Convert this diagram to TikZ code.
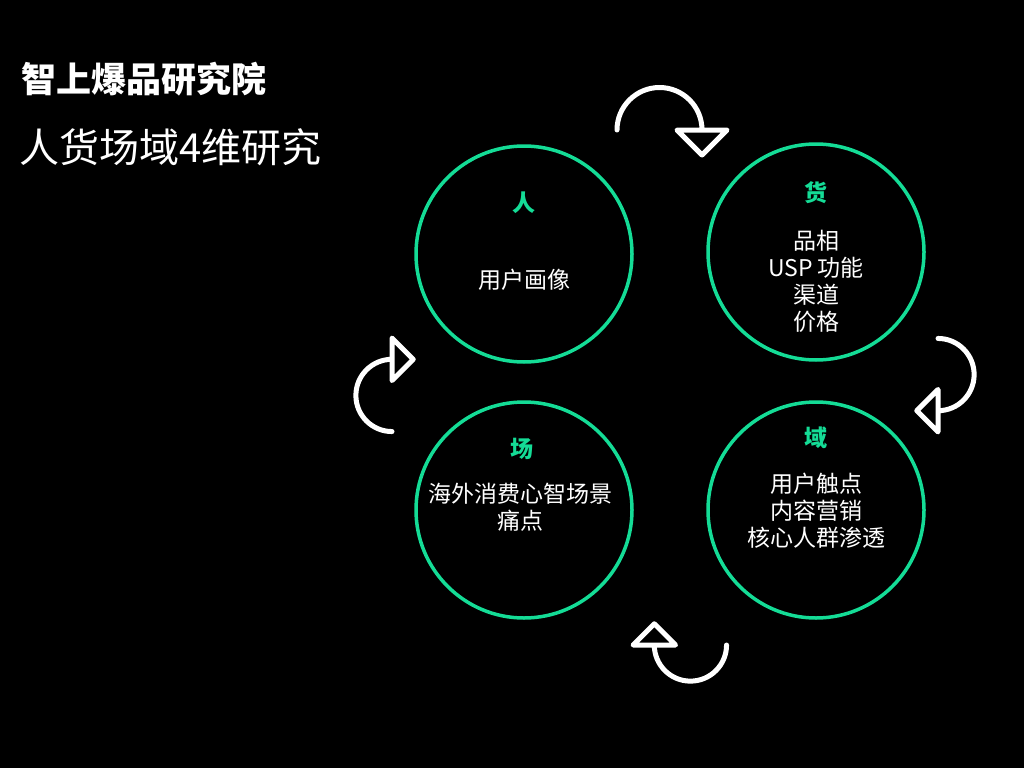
\documentclass[tikz,border=0pt]{standalone}
\usepackage{fontspec}
\newfontfamily\cjk{Noto Sans CJK SC}
\definecolor{grn}{RGB}{20,220,150}
\begin{document}
\begin{tikzpicture}[x=1pt,y=-1pt,
  ring/.style={circle,draw=grn,line width=3.5pt,minimum size=216pt,inner sep=0pt},
  hd/.style={text=grn,font=\cjk\bfseries\fontsize{23}{25}\selectfont},
  bd/.style={text=white,font=\cjk\fontsize{23}{27}\selectfont,align=center},
  turn/.pic={\draw[white,line width=5pt,line cap=round,line join=round]
     (-43,0) arc[start angle=180,end angle=360,radius=42.5] (17,0) -- (67,0) -- (42,25) -- cycle;}]
\fill[black] (0,0) rectangle (1024,768);
\node[anchor=west,text=white,font=\cjk\bfseries\fontsize{35}{38}\selectfont] (t) at (18,79) {智上爆品研究院};
\node[anchor=west,text=white,font=\cjk\fontsize{40}{44}\selectfont] (s) at (16,147) {人货场域4维研究};
\node[ring] (p) at (524,254) {};
\node[ring] (g) at (816,252) {};
\node[ring] (c) at (524,510) {};
\node[ring] (y) at (816,510) {};
\node[hd] (ph) at (524,203) {人};
\node[bd] (pb) at (524,280) {用户画像};
\node[hd] (gh) at (816,193) {货};
\node[bd] (gb) at (816,281) {品相\\USP 功能\\渠道\\价格};
\node[hd] (ch) at (522,449) {场};
\node[bd] (cb) at (520,507) {海外消费心智场景\\痛点};
\node[hd] (yh) at (816,438) {域};
\node[bd] (yb) at (816,511) {用户触点\\内容营销\\核心人群渗透};
\pic at (660,130) {turn};
\pic[rotate=-90,scale=0.85] at (938,375) {turn};
\pic[rotate=180,scale=0.85] at (690,645) {turn};
\pic[rotate=90,scale=0.85] at (392,395) {turn};
\end{tikzpicture}
\end{document}
